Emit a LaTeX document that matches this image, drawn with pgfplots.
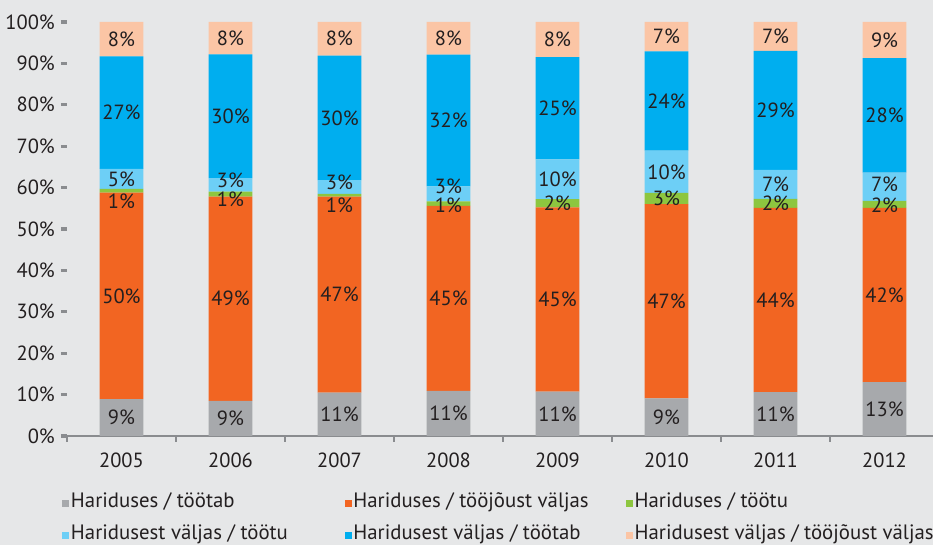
\documentclass[border=0pt]{standalone}
\usepackage{pgfplots}
\pgfplotsset{compat=1.18}
\usepackage{pgfplotstable}
\usepackage{fontspec}
\setmainfont{PT Sans}
\definecolor{bgcol}{HTML}{E6E7E8}
\definecolor{cgray}{HTML}{A7A9AC}
\definecolor{corange}{HTML}{F26522}
\definecolor{cgreen}{HTML}{8DC63F}
\definecolor{clblue}{HTML}{6DCFF6}
\definecolor{cblue}{HTML}{00AEEF}
\definecolor{cpeach}{HTML}{FBC5A5}
\definecolor{axgray}{HTML}{8A8C8F}
\definecolor{txt}{HTML}{231F20}
\newcommand\lfont{\fontsize{20.5}{24}\selectfont}
\newcommand\legfont{\fontsize{20.8}{24}\selectfont}
\newlength\Lshift
% #1 segment value, #2 extra shift (pt), #3 label
\protected\def\L#1#2#3{\pgfmathsetlength\Lshift{(#2-7.2)*1pt}\raisebox{\Lshift}[0pt][0pt]{#3\%}}

\pgfplotstableread{
x v lab
0 8.9 \L{8.9}{0}{9}
1 8.5 \L{8.5}{0}{9}
2 10.5 \L{10.5}{0}{11}
3 10.9 \L{10.9}{0}{11}
4 10.7 \L{10.7}{0}{11}
5 9.1 \L{9.1}{0}{9}
6 10.6 \L{10.6}{0}{11}
7 13.0 \L{13.0}{0}{13}
}\tA
\pgfplotstableread{
x v lab
0 49.9 \L{49.9}{0}{50}
1 49.3 \L{49.3}{0}{49}
2 47.3 \L{47.3}{0}{47}
3 44.7 \L{44.7}{0}{45}
4 44.5 \L{44.5}{0}{45}
5 46.9 \L{46.9}{0}{47}
6 44.5 \L{44.5}{0}{44}
7 42.1 \L{42.1}{0}{42}
}\tB
\pgfplotstableread{
x v lab
0 0.9 \L{0.9}{-11}{1}
1 1.2 \L{1.2}{-5}{1}
2 0.7 \L{0.7}{-10}{1}
3 1.1 \L{1.1}{-2}{1}
4 2.0 \L{2.0}{0}{2}
5 2.7 \L{2.7}{0}{3}
6 2.2 \L{2.2}{0}{2}
7 1.7 \L{1.7}{-1}{2}
}\tC
\pgfplotstableread{
x v lab
0 4.8 \L{4.8}{0}{5}
1 3.3 \L{3.3}{4.5}{3}
2 3.3 \L{3.3}{5}{3}
3 3.6 \L{3.6}{7.5}{3}
4 9.6 \L{9.6}{0}{10}
5 10.2 \L{10.2}{0}{10}
6 7.0 \L{7.0}{0}{7}
7 6.8 \L{6.8}{2}{7}
}\tD
\pgfplotstableread{
x v lab
0 27.2 \L{27.2}{0}{27}
1 29.9 \L{29.9}{0}{30}
2 30.1 \L{30.1}{0}{30}
3 31.8 \L{31.8}{0}{32}
4 24.7 \L{24.7}{0}{25}
5 24.0 \L{24.0}{0}{24}
6 28.7 \L{28.7}{0}{29}
7 27.7 \L{27.7}{0}{28}
}\tE
\pgfplotstableread{
x v lab
0 8.3 \L{8.3}{0}{8}
1 7.8 \L{7.8}{0}{8}
2 8.1 \L{8.1}{0}{8}
3 7.9 \L{7.9}{0}{8}
4 8.5 \L{8.5}{0}{8}
5 7.1 \L{7.1}{0}{7}
6 7.0 \L{7.0}{0}{7}
7 8.7 \L{8.7}{0}{9}
}\tF

\pgfplotsset{seg/.style={fill=#1, draw=none, forget plot,
  point meta=explicit symbolic,
  nodes near coords={\pgfplotspointmeta},
  every node near coord/.append style={anchor=base, inner sep=0pt, text=txt, font=\lfont}}}

\begin{document}
\begin{tikzpicture}
\fill[bgcol] (-67pt,-109pt) rectangle (866pt,436pt);
\begin{axis}[
  scale only axis, width=866pt, height=414pt,
  ybar stacked, bar width=43.6pt,
  xmin=-0.5, xmax=7.445, ymin=0, ymax=100,
  axis x line*=bottom, axis y line*=left,
  axis line style={-},
  x axis line style={draw=axgray, line width=2pt},
  y axis line style={draw=none},
  xtick={0,...,7}, xticklabels={2005,2006,2007,2008,2009,2010,2011,2012},
  minor xtick={-0.5,0.5,...,7.5},
  every major x tick/.append style={draw=none},
  every minor x tick/.append style={draw=axgray, line width=1.5pt},
  every y tick/.append style={draw=axgray, line width=3.3pt},
  tick align=outside, major tick length=6pt, minor tick length=6pt,
  ytick={0,10,...,100},
  yticklabels={0\%,10\%,20\%,30\%,40\%,50\%,60\%,70\%,80\%,90\%,100\%},
  tick label style={font=\lfont, text=txt},
  /pgf/number format/assume math mode=true,
  yticklabel style={inner sep=0pt, xshift=-6pt},
  xticklabel style={inner sep=0pt, yshift=-11pt},
  legend columns=3,
  legend style={at={(0,0)}, anchor=north west, xshift=-4.7pt, yshift=-56pt,
    draw=none, fill=none, inner sep=0pt, row sep=13.1pt, font=\legfont, text=txt,
    cells={anchor=base west},
    nodes={inner sep=0pt, text height=15pt, text depth=4pt},
    /tikz/every odd column/.append style={column sep=1.5pt},
    /tikz/every even column/.append style={column sep=0pt}},
  legend image code/.code={\fill[#1] (0pt,0pt) rectangle (7pt,7.4pt);},
]
\addlegendimage{fill=cgray, draw=none}
\addlegendentry{\makebox[273.9pt][l]{Hariduses / töötab}}
\addlegendimage{fill=corange, draw=none}
\addlegendentry{\makebox[272.8pt][l]{Hariduses / tööjõust väljas}}
\addlegendimage{fill=cgreen, draw=none}
\addlegendentry{Hariduses / töötu}
\addlegendimage{fill=clblue, draw=none}
\addlegendentry{\makebox[273.9pt][l]{Haridusest väljas / töötu}}
\addlegendimage{fill=cblue, draw=none}
\addlegendentry{\makebox[272.8pt][l]{Haridusest väljas / töötab}}
\addlegendimage{fill=cpeach, draw=none}
\addlegendentry{Haridusest väljas / tööjõust väljas}
\addplot[seg=cgray] table[x=x,y=v,meta=lab]{\tA};
\addplot[seg=corange] table[x=x,y=v,meta=lab]{\tB};
\addplot[seg=cgreen] table[x=x,y=v,meta=lab]{\tC};
\addplot[seg=clblue] table[x=x,y=v,meta=lab]{\tD};
\addplot[seg=cblue] table[x=x,y=v,meta=lab]{\tE};
\addplot[seg=cpeach] table[x=x,y=v,meta=lab]{\tF};
\end{axis}
\pgfresetboundingbox
\path[use as bounding box] (-67pt,-109pt) rectangle (866pt,436pt);
\end{tikzpicture}
\end{document}
